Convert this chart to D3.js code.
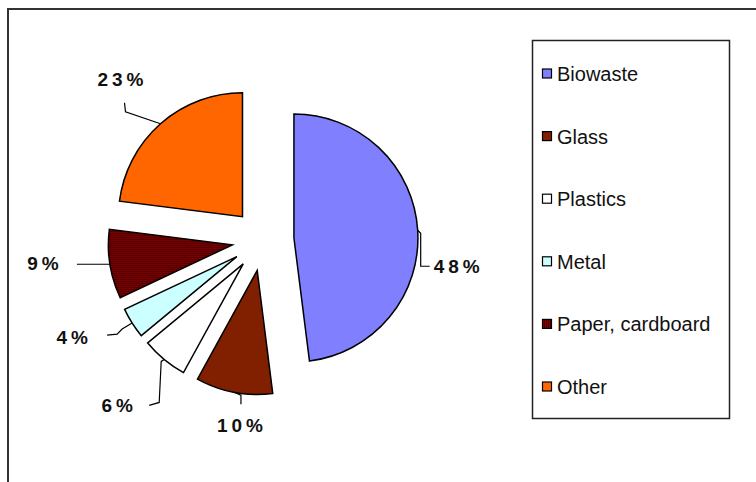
<!DOCTYPE html>
<html>
<head>
<meta charset="utf-8">
<script src="https://cdn.jsdelivr.net/npm/d3@7"></script>
<style>
	body { margin: 0; background: #fff; }
	svg { display: block; }
</style>
</head>
<body>
<div id="chart"></div>
<script>
// data
var categories = ["Biowaste", "Glass", "Plastics", "Metal", "Paper, cardboard", "Other"];
var shares = [48, 10, 6, 4, 9, 23];
var labels = ["48%", "10%", "6%", "4%", "9%", "23%"];
var colours = ["#8080ff", "#802000", "#ffffff", "#ccffff", "url(#dots)", "#ff6600"];

// label placement relative to the point on each slice's outer edge
var labelLayout = [
	{ dx: 39, dy: 36, bend: [[3, 3], [3, 36], [12, 36]] },
	{ dx: 6, dy: 33, bend: [[7, 3], [7, 12]] },
	{ dx: -47, dy: 46, bend: [[-3, 2], [-5, 43], [-15, 46]] },
	{ dx: -60, dy: 14, bend: [[-10, 6], [-15, 11], [-25, 12]] },
	{ dx: -67, dy: -1, bend: [[-33, 0]] },
	{ dx: -40, dy: -45, bend: [[-35, -12], [-36, -21]] }
];

function init(){
	var w = 756;
	var h = 482;
	var cx = 263, cy = 240;
	var r = 124;
	var explode = 31;

	var svg = d3.select("#chart")
				.append("svg")
				.attr("width", w)
				.attr("height", h);

	// dotted fill used by paper, cardboard
	var pat = svg.append("defs").append("pattern")
				.attr("id", "dots")
				.attr("width", 2)
				.attr("height", 2)
				.attr("patternUnits", "userSpaceOnUse");
	pat.append("rect").attr("width", 2).attr("height", 2).attr("fill", "#800000");
	pat.append("rect").attr("width", 1).attr("height", 1).attr("fill", "#1a0000");

	// outer frame, runs off the page right and bottom
	svg.append("rect")
		.attr("x", 8)
		.attr("y", 9)
		.attr("width", 900)
		.attr("height", 600)
		.attr("fill", "none")
		.attr("stroke", "#333")
		.attr("stroke-width", 2);

	var dataset = categories.map(function(c, i){
		return { name: c, value: shares[i], label: labels[i], colour: colours[i], layout: labelLayout[i] };
	});

	var pie = d3.pie()
				.sort(null)
				.value(function(d){ return d.value; });
	var arcs = pie(dataset);

	var arc = d3.arc()
				.innerRadius(0)
				.outerRadius(r);

	function mid(d){ return (d.startAngle + d.endAngle) / 2; }

	var slices = svg.append("g")
					.attr("transform", "translate(" + cx + "," + cy + ")");

	slices.selectAll("path")
		.data(arcs)
		.enter()
		.append("path")
		.attr("transform", function(d){
			var a = mid(d);
			return "translate(" + (explode * Math.sin(a)) + "," + (-explode * Math.cos(a)) + ")";
		})
		.attr("d", arc)
		.attr("fill", function(d){ return d.data.colour; })
		.attr("stroke", "#000")
		.attr("stroke-width", 1.5)
		.attr("stroke-linejoin", "miter");

	// leader lines and percent labels
	var ends = arcs.map(function(d){
		var a = mid(d);
		return [cx + (r + explode) * Math.sin(a), cy - (r + explode) * Math.cos(a)];
	});

	svg.append("g")
		.selectAll("polyline")
		.data(arcs)
		.enter()
		.append("polyline")
		.attr("points", function(d, i){
			var p = ends[i];
			var pts = [p].concat(d.data.layout.bend.map(function(b){ return [p[0] + b[0], p[1] + b[1]]; }));
			return pts.map(function(q){ return q.join(","); }).join(" ");
		})
		.attr("fill", "none")
		.attr("stroke", "#000")
		.attr("stroke-width", 1.2);

	svg.append("g")
		.selectAll("text")
		.data(arcs)
		.enter()
		.append("text")
		.attr("x", function(d, i){ return ends[i][0] + d.data.layout.dx + 2; })
		.attr("y", function(d, i){ return ends[i][1] + d.data.layout.dy + 7; })
		.attr("text-anchor", "middle")
		.style("font-family", "Arial, 'Liberation Sans', sans-serif")
		.style("font-weight", "bold")
		.style("font-size", "19px")
		.style("letter-spacing", "4px")
		.attr("fill", "#111")
		.text(function(d){ return d.data.label; });

	// legend
	var legendY = d3.scalePoint()
					.domain(categories)
					.range([74, 387]);

	svg.append("rect")
		.attr("x", 532.5)
		.attr("y", 40.5)
		.attr("width", 197)
		.attr("height", 378)
		.attr("fill", "#fff")
		.attr("stroke", "#222")
		.attr("stroke-width", 1.5);

	var items = svg.append("g")
					.selectAll("g")
					.data(dataset)
					.enter()
					.append("g")
					.attr("transform", function(d){ return "translate(542," + legendY(d.name) + ")"; });

	items.append("rect")
		.attr("x", 0.5)
		.attr("y", -5)
		.attr("width", 9)
		.attr("height", 9)
		.attr("fill", function(d){ return d.colour; })
		.attr("stroke", "#000")
		.attr("stroke-width", 1.2);

	items.append("text")
		.attr("x", 15)
		.attr("y", 7)
		.style("font-family", "Arial, 'Liberation Sans', sans-serif")
		.style("font-size", "20px")
		.attr("fill", "#111")
		.text(function(d){ return d.name; });
}

window.onload = init;
</script>
</body>
</html>
